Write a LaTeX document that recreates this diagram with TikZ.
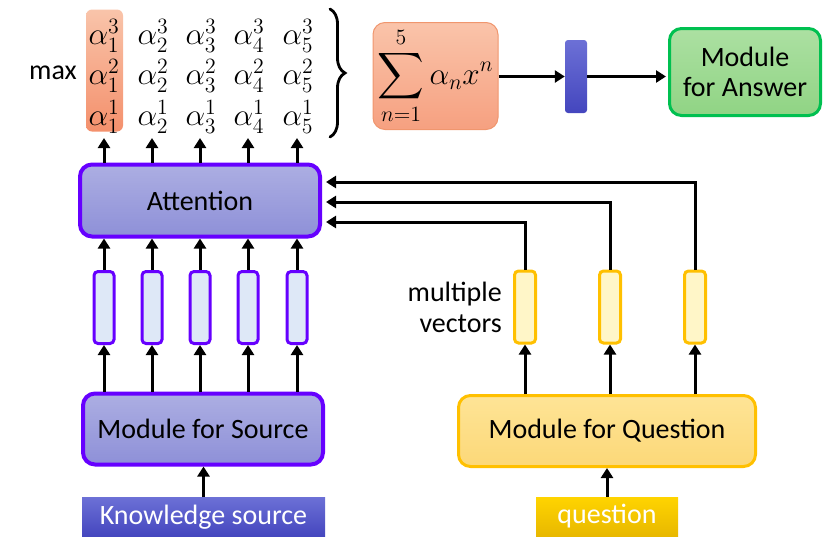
\documentclass[tikz,border=0pt]{standalone}
\usepackage{fix-cm}
\usepackage{amsmath}
\usepackage{graphicx}
\usepackage{fontspec}
\setmainfont{Carlito}
\usetikzlibrary{arrows.meta,decorations.pathreplacing}
\definecolor{purp}{RGB}{102,0,255}
\definecolor{lav1}{RGB}{172,174,226}
\definecolor{lav2}{RGB}{142,144,216}
\definecolor{vecblue}{RGB}{222,232,247}
\definecolor{ks1}{RGB}{108,112,214}
\definecolor{ks2}{RGB}{68,70,190}
\definecolor{gold}{RGB}{255,192,0}
\definecolor{qy1}{RGB}{254,228,150}
\definecolor{qy2}{RGB}{252,216,120}
\definecolor{qvec}{RGB}{255,246,200}
\definecolor{qb1}{RGB}{255,212,0}
\definecolor{qb2}{RGB}{232,184,0}
\definecolor{or1}{RGB}{250,196,170}
\definecolor{or2}{RGB}{246,160,128}
\definecolor{orb}{RGB}{240,150,110}
\definecolor{hl1}{RGB}{249,196,170}
\definecolor{hl2}{RGB}{244,144,108}
\definecolor{gr1}{RGB}{172,224,162}
\definecolor{gr2}{RGB}{144,212,132}
\definecolor{grb}{RGB}{0,192,80}
\newcommand{\myalph}[1]{\scalebox{1.3}{$#1$}}
\begin{document}
\begin{tikzpicture}[x=1pt,y=-1pt,
  every node/.style={font=\fontsize{28}{32}\selectfont, inner sep=0pt},
  arr/.style={line width=3pt,-{Triangle[length=10pt,width=12pt]}},
  bigbox/.style={draw=purp,line width=4pt,rounded corners=12pt,top color=lav1,bottom color=lav2},
  srcvec/.style={draw=purp,line width=3pt,rounded corners=4pt,fill=vecblue,minimum width=20pt,minimum height=72pt},
  qvecbox/.style={draw=gold,line width=3pt,rounded corners=4pt,fill=qvec,minimum width=21pt,minimum height=72pt},
  alph/.style={font=\fontsize{24}{28}\selectfont}
]
\useasboundingbox (0,0) rectangle (831,555);

% highlight of first column
\node[rounded corners=6pt,top color=hl1,bottom color=hl2,minimum width=37pt,minimum height=122pt] (hl) at (104.5,70.5) {};

% alpha matrix
\foreach \i/\x in {1/104,2/153,3/201,4/249,5/298}{
  \node[alph] (a3\i) at (\x,36) {\myalph{\alpha_{\i}^{3}}};
  \node[alph] (a2\i) at (\x,76) {\myalph{\alpha_{\i}^{2}}};
  \node[alph] (a1\i) at (\x,117) {\myalph{\alpha_{\i}^{1}}};
}
\node (max) at (53,73) {max};

% brace
\coordinate (bt) at (330,9);
\coordinate (bb) at (330,137);
\draw[line width=2.8pt,line cap=round,decorate,decoration={brace,amplitude=15pt}] (bt) -- (bb);

% sum box
\node[draw=orb,line width=1pt,rounded corners=12pt,top color=or1,bottom color=or2,minimum width=125pt,minimum height=107pt] (sum) at (435.5,76) {};
\node[alph] (sumtxt) at (sum.center) {\scalebox{1.3}{$\displaystyle\sum_{n=1}^{5}\alpha_n x^n$}};

% bar
\node[rounded corners=3pt,top color=ks1,bottom color=ks2,minimum width=22pt,minimum height=73pt] (bar) at (576,76.5) {};

% answer
\node[draw=grb,line width=3pt,rounded corners=12pt,top color=gr1,bottom color=gr2,minimum width=151pt,minimum height=87pt,align=center] (ans) at (745,72) {Module\\[-2pt]for Answer};

\draw[arr] (sum.east |- bar.west) -- (bar.west);
\draw[arr] (bar.east) -- ([xshift=-2pt]ans.west |- bar.east);

% attention
\node[bigbox,minimum width=240pt,minimum height=72pt] (att) at (200,200.5) {Attention};

% source vectors
\foreach \i/\x in {1/104,2/152,3/200,4/248,5/297}{
  \node[srcvec] (v\i) at (\x,307.5) {};
}

% module for source
\node[bigbox,minimum width=240pt,minimum height=71pt] (msrc) at (203,429) {Module for Source};
\node[top color=ks1,bottom color=ks2,minimum width=243pt,minimum height=39pt,text=white] (ks) at (203.5,517) {Knowledge source};

\foreach \i in {1,...,5}{
  \draw[arr] (v\i |- msrc.north) -- (v\i.south);
  \draw[arr] (v\i.north) -- (v\i |- att.south);
  \draw[arr] (v\i |- att.north) -- (v\i |- 0,138);
}
\draw[arr] (ks.north) -- (ks.north |- msrc.south);

% question side
\node[draw=gold,line width=3pt,rounded corners=12pt,top color=qy1,bottom color=qy2,minimum width=297pt,minimum height=71pt] (mq) at (607,431) {Module for Question};
\node[top color=qb1,bottom color=qb2,minimum width=142pt,minimum height=39pt,text=white] (qs) at (607,516.5) {question};
\draw[arr] (qs.north) -- (qs.north |- mq.south);

\node[qvecbox] (q1) at (525,307) {};
\node[qvecbox] (q2) at (610,307) {};
\node[qvecbox] (q3) at (695,307) {};
\node[align=right,anchor=east] (mv) at (502,307) {multiple\\[-1pt]vectors};

\foreach \i in {1,2,3}{
  \draw[arr] (q\i |- mq.north) -- (q\i.south);
}
\draw[arr,shorten >=4pt] (q1.north) |- (att.east |- 0,222);
\draw[arr,shorten >=4pt] (q2.north) |- (att.east |- 0,202);
\draw[arr,shorten >=4pt] (q3.north) |- (att.east |- 0,182);
\end{tikzpicture}
\end{document}
